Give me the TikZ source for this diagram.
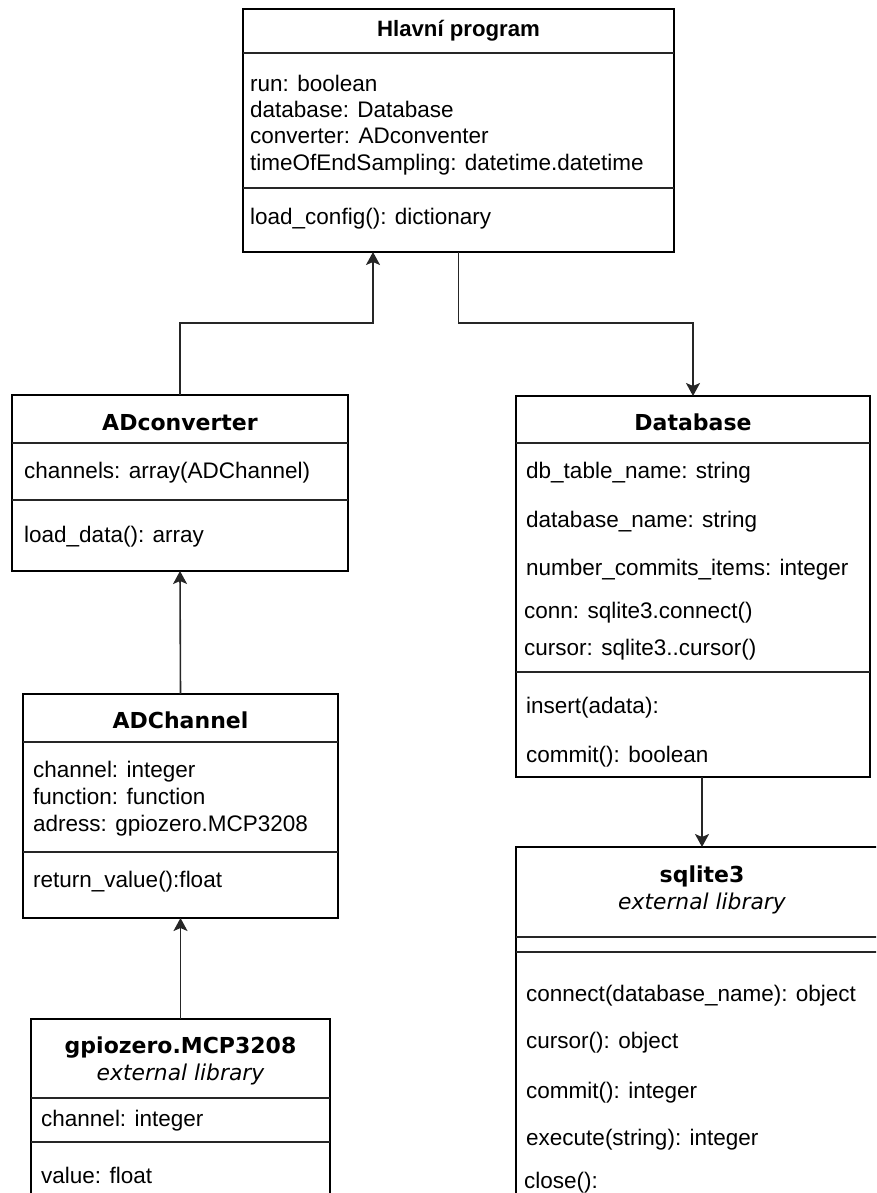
\documentclass[tikz,border=0pt]{standalone}
\usepackage{fontspec}
\setmainfont{Liberation Sans}
\newfontfamily\djv{DejaVu Sans}
\usetikzlibrary{arrows.meta}

\tikzset{
  umlbox/.style={draw=black, line width=1.6pt, fill=white, inner sep=0pt, outer sep=0pt, anchor=north west},
  sepline/.style={draw=black!85, line width=1.6pt},
  conn/.style={draw=black!85, line width=1.6pt, -{Stealth[length=13pt,width=14pt,inset=3pt]}},
  attr/.style={anchor=base west, inner sep=0pt, font=\fontsize{22.5}{27}\selectfont},
  maintitle/.style={anchor=base, inner sep=0pt, font=\fontsize{22.2}{27}\selectfont\bfseries},
  classtitle/.style={anchor=base, inner sep=0pt, font=\fontsize{22}{27}\selectfont\djv\bfseries},
  stereo/.style={anchor=base, inner sep=0pt, font=\fontsize{21.8}{27}\selectfont\djv\itshape},
}

\begin{document}
\begin{tikzpicture}[x=1pt,y=-1pt]
\useasboundingbox (0,0) rectangle (876,1193);
\clip (0,0) rectangle (876,1193);

% ---------- Hlavni program ----------
\node[umlbox, minimum width=431pt, minimum height=243pt] (main) at (243,9) {};
\draw[sepline] (main.west |- 0,53) -- (main.east |- 0,53);
\draw[sepline] (main.west |- 0,188) -- (main.east |- 0,188);
\node[maintitle] (main-t) at (main.center |- 0,37) {Hlavní program};
\node[attr] (main-a1) at (250,92) {run: boolean};
\node[attr] (main-a2) at (250,118) {database: Database};
\node[attr] (main-a3) at (250,144) {converter: ADconventer};
\node[attr] (main-a4) at (250,171) {timeOfEndSampling: datetime.datetime};
\node[attr] (main-m1) at (250,224) {load\_config(): dictionary};

% ---------- ADconverter ----------
\node[umlbox, minimum width=336pt, minimum height=176pt] (adconv) at (12,395) {};
\draw[sepline] (adconv.west |- 0,443) -- (adconv.east |- 0,443);
\draw[sepline] (adconv.west |- 0,500) -- (adconv.east |- 0,500);
\node[classtitle] (adconv-t) at (adconv.center |- 0,430) {ADconverter};
\node[attr] (adconv-a1) at (24,478) {channels: array(ADChannel)};
\node[attr] (adconv-m1) at (24,542) {load\_data(): array};

% ---------- Database ----------
\node[umlbox, minimum width=354pt, minimum height=381pt] (db) at (516,396) {};
\draw[sepline] (db.west |- 0,443) -- (db.east |- 0,443);
\draw[sepline] (db.west |- 0,672) -- (db.east |- 0,672);
\node[classtitle] (db-t) at (db.center |- 0,430) {Database};
\node[attr] (db-a1) at (526,478) {db\_table\_name: string};
\node[attr] (db-a2) at (526,527) {database\_name: string};
\node[attr] (db-a3) at (526,575) {number\_commits\_items: integer};
\node[attr] (db-a4) at (524,618) {conn: sqlite3.connect()};
\node[attr] (db-a5) at (524,655) {cursor: sqlite3..cursor()};
\node[attr] (db-m1) at (526,713) {insert(adata):};
\node[attr] (db-m2) at (526,762) {commit(): boolean};

% ---------- ADChannel ----------
\node[umlbox, minimum width=315pt, minimum height=224pt] (adch) at (23,694) {};
\draw[sepline] (adch.west |- 0,742) -- (adch.east |- 0,742);
\draw[sepline] (adch.west |- 0,852) -- (adch.east |- 0,852);
\node[classtitle] (adch-t) at (adch.center |- 0,728) {ADChannel};
\node[attr] (adch-a1) at (33,777) {channel: integer};
\node[attr] (adch-a2) at (33,804) {function: function};
\node[attr] (adch-a3) at (33,831) {adress: gpiozero.MCP3208};
\node[attr] (adch-m1) at (33,887) {return\_value():float};

% ---------- gpiozero.MCP3208 ----------
\node[umlbox, minimum width=299pt, minimum height=201pt] (gpio) at (31,1019) {};
\draw[sepline] (gpio.west |- 0,1098) -- (gpio.east |- 0,1098);
\draw[sepline] (gpio.west |- 0,1142) -- (gpio.east |- 0,1142);
\node[classtitle] (gpio-t) at (gpio.center |- 0,1053) {gpiozero.MCP3208};
\node[stereo] (gpio-s) at (gpio.center |- 0,1080) {external library};
\node[attr] (gpio-a1) at (41,1126) {channel: integer};
\node[attr] (gpio-m1) at (41,1183) {value: float};

% ---------- sqlite3 ----------
\node[umlbox, minimum width=372pt, minimum height=373pt] (sql) at (516,847) {};
\draw[sepline] (sql.west |- 0,937) -- (sql.east |- 0,937);
\draw[sepline] (sql.west |- 0,952) -- (sql.east |- 0,952);
\node[classtitle] (sql-t) at (sql.center |- 0,882) {sqlite3};
\node[stereo] (sql-s) at (sql.center |- 0,909) {external library};
\node[attr] (sql-m1) at (526,1001) {connect(database\_name): object};
\node[attr] (sql-m2) at (526,1048) {cursor(): object};
\node[attr] (sql-m3) at (526,1098) {commit(): integer};
\node[attr] (sql-m4) at (526,1145) {execute(string): integer};
\node[attr] (sql-m5) at (524,1188) {close():};

% ---------- connectors ----------
\coordinate (bendA) at (373,323);
\coordinate (bendB) at (db.north |- 0,323);
\draw[conn] (adconv.north) |- (bendA) -- (bendA |- main.south);
\draw[conn] (main.south) |- (bendB) -- (db.north);
\draw[conn] (sql.north |- db.south) -- (sql.north);
\draw[conn] (adch.north) -- (adconv.south);
\draw[conn] (gpio.north) -- (adch.south);
\end{tikzpicture}
\end{document}
